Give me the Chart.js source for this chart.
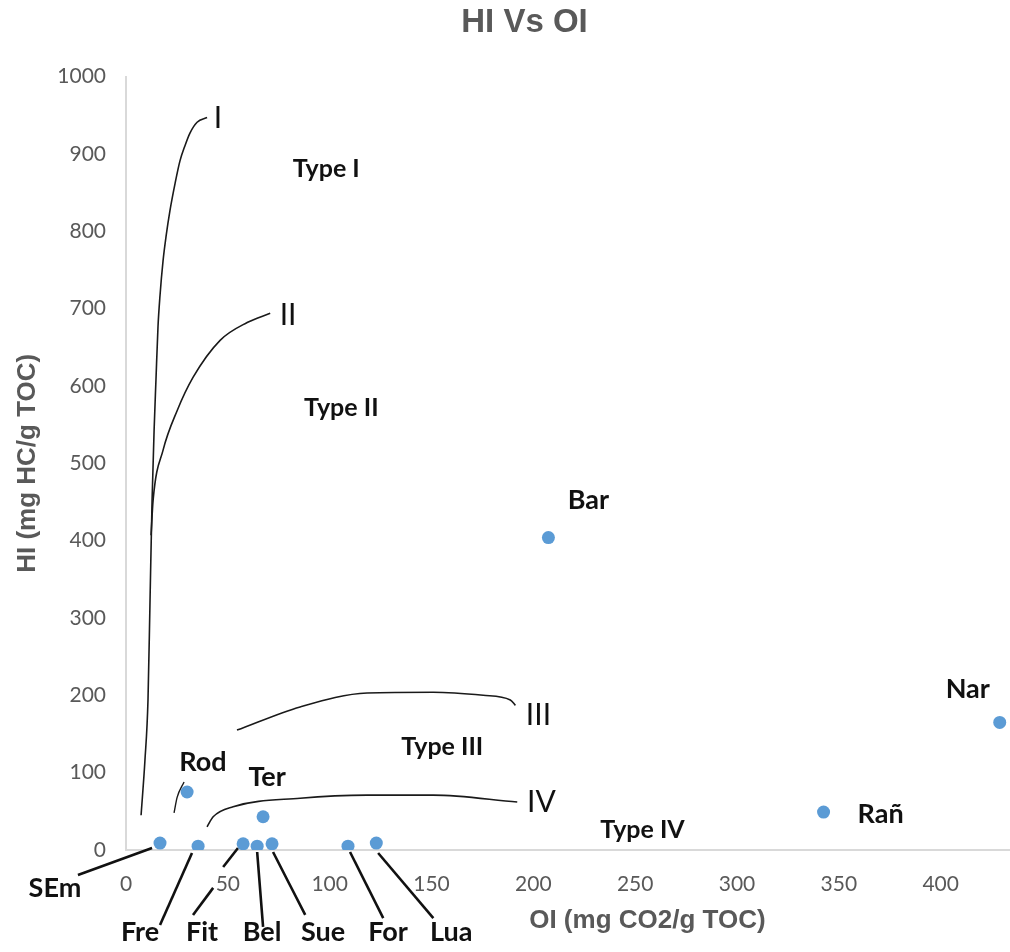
<!DOCTYPE html>
<html><head><meta charset="utf-8">
<script src="https://cdn.jsdelivr.net/npm/chart.js@4/dist/chart.umd.min.js"></script>
<style>html,body{margin:0;padding:0;background:#fff;overflow:hidden}canvas{display:block}</style>
</head><body>
<canvas id="c" width="1049" height="952"></canvas>
<script>
const chartTitle = 'HI Vs OI';
const xAxisTitle = 'OI (mg CO2/g TOC)';
const yAxisTitle = 'HI (mg HC/g TOC)';
const xTickValues = [0, 50, 100, 150, 200, 250, 300, 350, 400, 450];
const xTickLabels = ['0', '50', '100', '150', '200', '250', '300', '350', '400', ''];
const yTickValues = [0, 100, 200, 300, 400, 500, 600, 700, 800, 900, 1000];
const yTickLabels = ['0', '100', '200', '300', '400', '500', '600', '700', '800', '900', '1000'];

// Samples
const sampleNames = ['SEm', 'Fre', 'Fit', 'Bel', 'Sue', 'For', 'Lua', 'Rod', 'Ter', 'Bar', 'Nar', 'Rañ'];
const sampleOI = [16.7, 35.4, 57.5, 64.4, 71.7, 109, 122.9, 30, 67.3, 207.4, 429, 342.5];
const sampleHI = [9, 5, 8, 5, 8, 5, 9, 75, 43, 404, 165, 49];
const sampleLabelOI = [-34.9, 6.9, 37.3, 66.8, 96.8, 128.7, 159.7, 37.8, 69.3, 227, 413.3, 370.5];
const sampleLabelHI = [-49, -106, -106, -106, -106, -106, -106, 114, 94, 452, 208, 46.5];

// Leader lines (SEm, Fre, Fit upper, Fit lower, Bel, Sue, For, Lua)
const leaderFromOI = [12.8, 32.4, 55.0, 42.8, 64.4, 72.2, 110.0, 123.8];
const leaderFromHI = [2.6, -3.9, 2.6, -49, -2.6, -2.6, -2.6, -3.9];
const leaderToOI = [-23.6, 16.7, 47.7, 32.9, 67.3, 88.0, 126.3, 150.9];
const leaderToHI = [-32.3, -97, -22, -84, -99.5, -84, -88, -88];

// Small stroke near Rod
const strokeOI = [23.6, 25.1, 28.5];
const strokeHI = [48, 68, 88];

// Kerogen type evolution curves
const curveI_OI = [7.4, 9.3, 10.8, 11.8, 12.8, 13.8, 14.7, 15.7, 16.7, 18.2, 19.7, 21.6, 24.1, 26.5, 29.0, 31.4, 34.9, 39.8];
const curveI_HI = [45, 116, 194, 323, 452, 543, 607, 676, 717, 762, 794, 827, 862, 891, 911, 927, 941, 947];
const curveII_OI = [12.3, 13.3, 18.2, 25.1, 32.9, 46.2, 59.5, 70.8];
const curveII_HI = [407, 452, 517, 568, 611, 659, 682, 694];
const curveIII_OI = [54.5, 85.5, 118.4, 150.9, 175.4, 188.7, 191.2];
const curveIII_HI = [155, 185, 203, 204, 200, 194, 187];
const curveIV_OI = [39.8, 42.8, 52.6, 85.5, 118.4, 150.9, 192.1];
const curveIV_HI = [30, 43, 56, 67, 71, 71, 62];

const curveNames = ['I', 'II', 'III', 'IV'];
const curveNameOI = [45.2, 79.6, 202.5, 204];
const curveNameHI = [946, 691, 174, 61];
const typeNames = ['Type I', 'Type II', 'Type III', 'Type IV'];
const typeOI = [98.3, 105.7, 155.3, 253.6];
const typeHI = [881, 571, 133, 26];

const pts = (xs, ys) => xs.map((v, i) => ({x: v, y: ys[i]}));
const lineDs = (data, extra) => Object.assign({
  type: 'scatter', data, showLine: true, borderColor: '#1a1a1a', borderWidth: 1.6,
  pointRadius: 0, pointHoverRadius: 0, fill: false, cubicInterpolationMode: 'monotone', order: 2
}, extra || {});

const datasets = [
  {
    label: 'Samples', data: pts(sampleOI, sampleHI), backgroundColor: '#5b9bd5',
    borderWidth: 0, pointRadius: 6.5, pointHoverRadius: 6.5, order: 0
  },
  lineDs(pts(curveI_OI, curveI_HI)),
  lineDs(pts(curveII_OI, curveII_HI)),
  lineDs(pts(curveIII_OI, curveIII_HI)),
  lineDs(pts(curveIV_OI, curveIV_HI)),
  lineDs(pts(strokeOI, strokeHI), {borderWidth: 1.4}),
  ...leaderFromOI.map((v, i) => lineDs(
    [{x: v, y: leaderFromHI[i]}, {x: leaderToOI[i], y: leaderToHI[i]}],
    {borderWidth: 2.6, borderColor: '#111', clip: false}))
];

const annot = {
  id: 'annot',
  afterDatasetsDraw(chart) {
    const {ctx, scales: {x, y}} = chart;
    ctx.save();
    ctx.textAlign = 'center';
    ctx.textBaseline = 'middle';
    ctx.fillStyle = '#111';
    ctx.font = 'bold 27px Lato';
    sampleNames.forEach((n, i) => ctx.fillText(n, x.getPixelForValue(sampleLabelOI[i]), y.getPixelForValue(sampleLabelHI[i])));
    ctx.font = 'bold 25px Lato';
    typeNames.forEach((n, i) => ctx.fillText(n, x.getPixelForValue(typeOI[i]), y.getPixelForValue(typeHI[i])));
    ctx.font = '30px Lato';
    curveNames.forEach((n, i) => ctx.fillText(n, x.getPixelForValue(curveNameOI[i]), y.getPixelForValue(curveNameHI[i])));
    ctx.fillStyle = '#595959';
    ctx.font = 'bold 26px "Liberation Sans", Arial, sans-serif';
    ctx.fillText(xAxisTitle, x.getPixelForValue(256), y.bottom + 71);
    ctx.restore();
  }
};

new Chart(document.getElementById('c'), {
  type: 'scatter',
  data: {datasets},
  plugins: [annot],
  options: {
    responsive: false,
    animation: false,
    events: [],
    layout: {padding: {left: 0, right: 0, top: 0, bottom: 55}},
    plugins: {
      legend: {display: false},
      tooltip: {enabled: false},
      title: {
        display: true, text: chartTitle, color: '#595959',
        font: {family: '"Liberation Sans", Arial, sans-serif', size: 33, weight: 'bold'},
        padding: {top: 3, bottom: 34}
      }
    },
    scales: {
      x: {
        type: 'linear', min: 0, max: 450,
        afterBuildTicks: s => { s.ticks = xTickValues.map(v => ({value: v})); },
        afterFit: s => { s.height = 47; },
        grid: {display: false, drawTicks: true, tickLength: 22},
        border: {display: true, color: '#d9d9d9', width: 2},
        ticks: {
          color: '#595959', font: {family: 'Lato', size: 21}, padding: 0, maxRotation: 0, autoSkip: false,
          callback: (v, i) => xTickLabels[i]
        }
      },
      y: {
        type: 'linear', min: 0, max: 1000,
        afterBuildTicks: s => { s.ticks = yTickValues.map(v => ({value: v})); },
        afterFit: s => { s.width = 126; },
        grid: {display: false, drawTicks: false},
        border: {display: true, color: '#d9d9d9', width: 2},
        ticks: {
          color: '#595959', font: {family: 'Lato', size: 21}, padding: 20, autoSkip: false,
          callback: (v, i) => yTickLabels[i]
        },
        title: {
          display: true, text: yAxisTitle, color: '#595959',
          font: {family: '"Liberation Sans", Arial, sans-serif', size: 26, weight: 'bold'},
          padding: {top: 12, bottom: 0}
        }
      }
    }
  }
});
</script>
</body></html>
